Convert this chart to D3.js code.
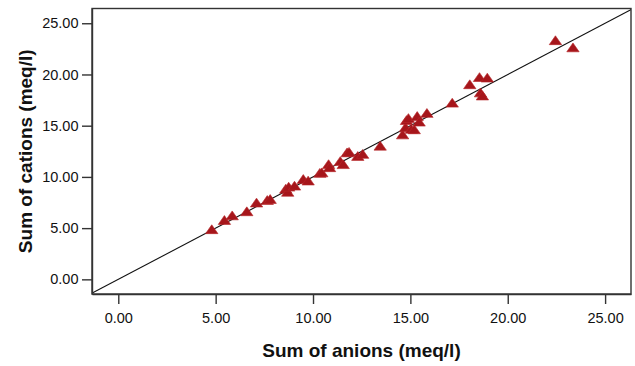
<!DOCTYPE html>
<html>
<head>
<meta charset="utf-8">
<script src="https://cdn.jsdelivr.net/npm/d3@7/dist/d3.min.js"></script>
<style>
  html, body { margin: 0; padding: 0; background: #fff; }
  svg { display: block; }
</style>
</head>
<body>
<svg id="chart" width="635" height="366"></svg>
<script>
// Ionic balance: sum of anions vs sum of cations (meq/l)
const anions = [4.80, 5.45, 5.85, 6.60, 7.10, 7.65, 7.80, 8.60, 8.70, 8.75, 9.05, 9.50, 9.75,
  10.35, 10.45, 10.80, 10.85, 11.40, 11.55, 11.75, 11.85, 12.30, 12.55, 13.45,
  14.60, 14.75, 14.80, 14.90, 15.05, 15.20, 15.35, 15.45, 15.85, 17.15,
  18.05, 18.55, 18.95, 18.60, 18.70, 22.45, 23.35];
const cations = [4.80, 5.70, 6.15, 6.55, 7.40, 7.65, 7.75, 8.75, 8.45, 8.95, 9.05, 9.70, 9.55,
  10.30, 10.35, 11.15, 10.85, 11.45, 11.15, 12.30, 12.35, 11.95, 12.15, 12.95,
  14.05, 14.75, 15.45, 15.65, 14.60, 14.55, 15.85, 15.30, 16.15, 17.15,
  18.95, 19.65, 19.60, 18.15, 17.85, 23.25, 22.55];
const xTicks = [0, 5, 10, 15, 20, 25];
const yTicks = [0, 5, 10, 15, 20, 25];
const xDomain = [-1.35, 26.33];
const yDomain = [-1.43, 26.44];

const svg = d3.select("#chart");
const plotL = 92, plotR = 631, plotT = 8.5, plotB = 294;

const x = d3.scaleLinear().domain(xDomain).range([plotL, plotR]);
const y = d3.scaleLinear().domain(yDomain).range([plotB, plotT]);

svg.append("defs").append("clipPath").attr("id", "plotClip")
  .append("rect").attr("x", plotL).attr("y", plotT)
  .attr("width", plotR - plotL).attr("height", plotB - plotT);

// Reference line y = x
svg.append("line")
  .attr("clip-path", "url(#plotClip)")
  .attr("x1", x(xDomain[0] - 1)).attr("y1", y(xDomain[0] - 1))
  .attr("x2", x(xDomain[1] + 1)).attr("y2", y(xDomain[1] + 1))
  .attr("stroke", "#111").attr("stroke-width", 1.1);

// Points
const tri = d3.symbol().type(d3.symbolTriangle).size(50);
svg.append("g").selectAll("path")
  .data(anions.map((a, i) => [a, cations[i]]))
  .join("path")
  .attr("d", tri)
  .attr("transform", d => `translate(${x(d[0])},${y(d[1]) + 0.5}) scale(1.15,0.95)`)
  .attr("fill", "#a6161b")
  .attr("stroke", "#b8262a")
  .attr("stroke-width", 0.6);

// Frame
svg.append("rect")
  .attr("x", plotL).attr("y", plotT)
  .attr("width", plotR - plotL).attr("height", plotB - plotT)
  .attr("fill", "none").attr("stroke", "#333").attr("stroke-width", 1.4);

// Axes
const fmt = d3.format(".2f");
const xAxis = svg.append("g").attr("transform", `translate(0,${plotB})`)
  .call(d3.axisBottom(x).tickValues(xTicks).tickFormat(fmt).tickSize(10).tickSizeOuter(0));
const yAxis = svg.append("g").attr("transform", `translate(${plotL},0)`)
  .call(d3.axisLeft(y).tickValues(yTicks).tickFormat(fmt).tickSize(10).tickSizeOuter(0));

[xAxis, yAxis].forEach(g => {
  g.select(".domain").attr("stroke", "#333").attr("stroke-width", 1.4);
  g.selectAll(".tick line").attr("stroke", "#333").attr("stroke-width", 1.4);
  g.selectAll(".tick text")
    .attr("fill", "#111")
    .style("font-family", "'Liberation Sans', Arial, sans-serif")
    .style("font-size", "14.5px");
});
xAxis.selectAll(".tick text").attr("dy", "0.71em").attr("y", 19);
yAxis.selectAll(".tick text").attr("x", -13.5);

// Axis titles
svg.append("text")
  .attr("x", (plotL + plotR) / 2).attr("y", 357)
  .attr("text-anchor", "middle")
  .style("font-family", "'Liberation Sans Narrow', 'Liberation Sans', Arial, sans-serif")
  .style("font-weight", "bold").style("font-size", "19px")
  .attr("fill", "#111")
  .text("Sum of anions (meq/l)");

svg.append("text")
  .attr("transform", `translate(32,${(plotT + plotB) / 2}) rotate(-90)`)
  .attr("text-anchor", "middle")
  .style("font-family", "'Liberation Sans Narrow', 'Liberation Sans', Arial, sans-serif")
  .style("font-weight", "bold").style("font-size", "19px")
  .attr("fill", "#111")
  .text("Sum of cations (meq/l)");
</script>
</body>
</html>
